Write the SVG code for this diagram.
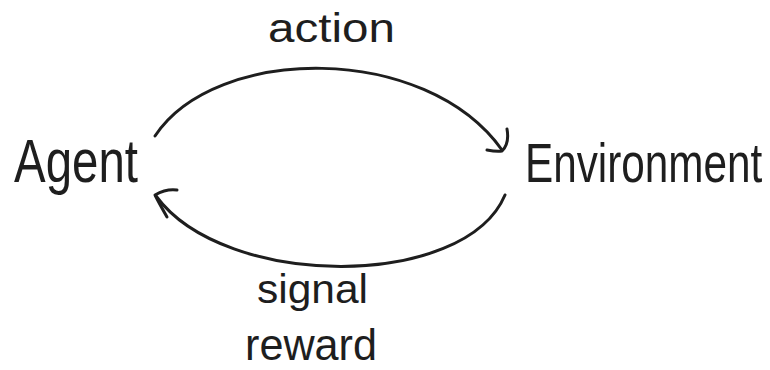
<svg xmlns="http://www.w3.org/2000/svg" width="770" height="370" viewBox="0 0 770 370">
  <style>
    .ink { fill: none; stroke: #1e1e1e; stroke-width: 3; stroke-linecap: round; stroke-linejoin: round; }
    .hand { font-family: "Liberation Sans", "DejaVu Sans", sans-serif; fill: #1e1e1e; }
  </style>
  <rect width="770" height="370" fill="#ffffff"/>

  <g id="agent">
    <text class="hand" transform="translate(14,182) scale(0.765,1)" font-size="62">Agent</text>
  </g>

  <g id="environment">
    <text class="hand" transform="translate(525,182) scale(0.755,1)" font-size="56">Environment</text>
  </g>

  <g id="connectors">
    <!-- action: Agent to Environment -->
    <path class="ink" d="M155,136 C215,45 425,42 502,150"/>
    <path class="ink" d="M507,129 C509,140 506,147 502,151 C497,152 492,151 487,150"/>
    <!-- reward signal: Environment back to Agent -->
    <path class="ink" d="M505,195 C465,290 225,290 156,196"/>
    <path class="ink" d="M177,190 C170,189 162,191 155,195 C159,203 163,210 167,217"/>
    <text class="hand" x="268" y="42" font-size="40" textLength="127" lengthAdjust="spacingAndGlyphs">action</text>
    <text class="hand" x="257" y="303" font-size="40" textLength="111" lengthAdjust="spacingAndGlyphs">signal</text>
    <text class="hand" x="245" y="360" font-size="44" textLength="132" lengthAdjust="spacingAndGlyphs">reward</text>
  </g>
</svg>
